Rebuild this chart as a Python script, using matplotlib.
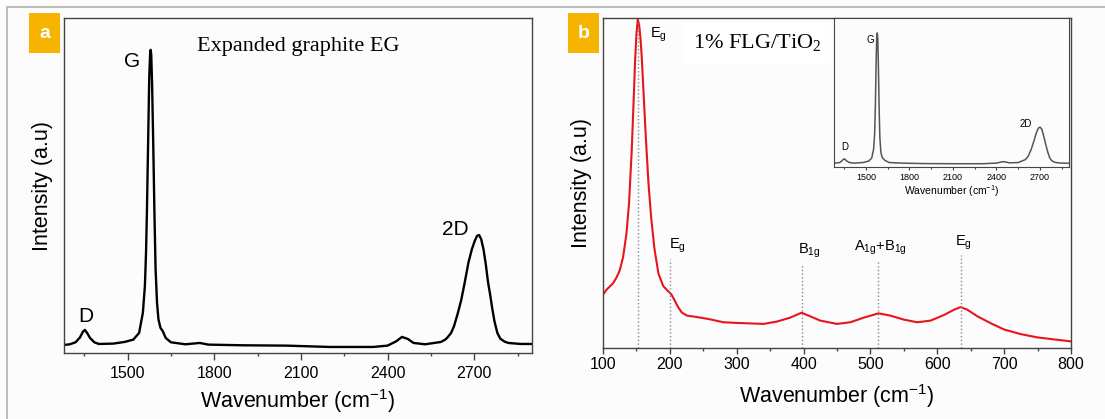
import matplotlib.pyplot as plt
from matplotlib.patches import Rectangle
from matplotlib.ticker import MultipleLocator

plt.rcParams['font.family'] = 'Liberation Sans'
plt.rcParams['mathtext.fontset'] = 'custom'
plt.rcParams['mathtext.rm'] = 'Liberation Sans'
plt.rcParams['mathtext.it'] = 'Liberation Sans:italic'

# (a) expanded graphite, Raman shift vs intensity (a.u., 0-100 of axis height)
eg_wn = [1280, 1300, 1320, 1335, 1345, 1352, 1360, 1370, 1385, 1400, 1450, 1490,
         1520, 1540, 1553, 1560, 1564, 1567, 1571, 1575, 1578, 1580, 1582, 1585,
         1589, 1593, 1597, 1602, 1607, 1614, 1622, 1632, 1650, 1700, 1750, 1780,
         1900, 2050, 2200, 2350, 2400, 2430, 2450, 2470, 2490, 2530, 2585, 2600,
         2609, 2620, 2630, 2642, 2655, 2667, 2680, 2692, 2702, 2710, 2717, 2724,
         2732, 2740, 2748, 2755, 2762, 2770, 2780, 2790, 2805, 2818, 2860, 2900]
eg_int = [2.4, 2.6, 3.2, 4.6, 6.3, 6.9, 6.0, 4.5, 3.2, 2.7, 2.8, 3.3,
          4.0, 6.0, 12, 20, 30, 42, 62, 82, 89, 90.5, 89, 80,
          62, 42, 25, 15, 10, 7.5, 6.5, 4.5, 3.2, 2.6, 3.0, 2.5,
          2.3, 2.2, 1.8, 1.8, 2.2, 3.5, 4.8, 4.2, 3.0, 2.6, 3.3, 4.0,
          4.8, 6.0, 8.0, 11.5, 15.8, 21, 27, 31, 33.5, 35, 35.2, 34,
          31, 26.5, 21, 17.5, 13.5, 9.5, 6.0, 4.3, 3.4, 3.0, 2.7, 2.7]

# (b) 1% FLG/TiO2, low wavenumber region
tio2_wn = [100, 105, 110, 115, 120, 125, 130, 135, 139, 143, 146, 148, 150, 152,
           154, 156, 158, 161, 164, 168, 172, 177, 183, 190, 197, 202, 207, 212,
           218, 226, 240, 260, 280, 300, 340, 360, 380, 397, 410, 425, 450, 470,
           490, 512, 530, 550, 570, 590, 610, 625, 635, 645, 660, 680, 700, 725,
           750, 775, 800]
tio2_int = [16.2, 17.6, 18.6, 19.6, 21.3, 23.5, 27.5, 34.5, 44, 60, 76, 87, 95, 99.5,
            98, 94, 88, 76, 64, 50, 39.6, 30, 22.5, 18.8, 17.3, 16.3, 14.5, 12.5,
            10.7, 9.8, 9.4, 8.7, 7.8, 7.6, 7.3, 8.0, 9.2, 10.7, 9.6, 8.3, 7.3, 7.8,
            9.2, 10.5, 9.8, 8.6, 7.8, 8.3, 10.0, 11.6, 12.4, 11.6, 9.6, 7.5, 5.6, 4.2,
            3.2, 2.6, 2.0]

# inset: carbon region of 1% FLG/TiO2
flg_wn = [1280, 1320, 1335, 1345, 1350, 1358, 1368, 1385, 1420, 1480, 1520, 1540,
          1553, 1560, 1565, 1570, 1574, 1578, 1582, 1586, 1591, 1596, 1603, 1612,
          1630, 1660, 1750, 1900, 2100, 2300, 2400, 2430, 2445, 2460, 2490, 2550,
          2600, 2620, 2640, 2660, 2675, 2688, 2700, 2712, 2725, 2740, 2755, 2768,
          2780, 2800, 2830, 2900]
flg_int = [2.5, 3.0, 4.2, 5.2, 5.4, 5.0, 4.0, 3.0, 2.6, 3.0, 4.0, 6.0,
           12, 22, 40, 68, 86, 90, 86, 68, 40, 20, 10, 6.5,
           4.5, 3.0, 2.6, 2.3, 2.2, 2.2, 2.6, 3.3, 3.6, 3.4, 2.8, 3.0,
           5.0, 7.5, 12, 18, 23, 26, 26.8, 25.5, 21, 15, 9.5, 6.0,
           4.3, 3.2, 2.7, 2.5]

# TiO2 anatase modes
mode_pos = [152, 200, 397, 512, 635]
mode_top = [99.5, 26.9, 25.3, 26.2, 28.2]
mode_names = [r'E$_\mathregular{g}$', r'E$_\mathregular{g}$', r'B$_\mathregular{1g}$',
              r'A$_\mathregular{1g}$+B$_\mathregular{1g}$', r'E$_\mathregular{g}$']

W, H = 1105, 419
bg = '#fcfcfc'
spine_c = '#444444'
fig = plt.figure(figsize=(W / 100, H / 100), dpi=100, facecolor=bg)

# grey panel frame
fig.patches.append(Rectangle((7 / W, -0.1), 1.2, (H - 7) / H + 0.1, transform=fig.transFigure,
                             fill=False, ec='#bdbdbd', lw=1.5))

ax1 = fig.add_axes([64 / W, 1 - 353 / H, 468 / W, 335 / H])
ax2 = fig.add_axes([603 / W, 1 - 348 / H, 468 / W, 330 / H])
ax3 = fig.add_axes([834 / W, 1 - 167 / H, 235 / W, 149 / H])

xlab = r'Wavenumber (cm$^{\mathregular{-1}}$)'

# ---- panel a
ax1.plot(eg_wn, eg_int, color='black', lw=1.7)
ax1.set_xlim(1280, 2900)
ax1.set_ylim(0, 100)
ax1.set_xticks([1500, 1800, 2100, 2400, 2700])
ax1.xaxis.set_minor_locator(MultipleLocator(150))
ax1.set_yticks([])
ax1.tick_params(axis='x', which='major', direction='out', length=5, width=1, color=spine_c,
                labelsize=11.5, pad=4)
ax1.tick_params(axis='x', which='minor', direction='out', length=2.5, width=1, color=spine_c)
ax1.set_xlabel(xlab, fontsize=15.5, labelpad=5)
ax1.set_ylabel('Intensity (a.u)', fontsize=15.5, labelpad=8)
ax1.text(0.5, 0.916, 'Expanded graphite EG', transform=ax1.transAxes, family='Liberation Serif',
         fontsize=16, ha='center', va='center')
ax1.text(1517, 87, 'G', fontsize=15, ha='center', va='center')
ax1.text(1357, 11, 'D', fontsize=15, ha='center', va='center')
ax1.text(2633, 37, '2D', fontsize=15, ha='center', va='center')

# ---- panel b
ax2.plot(tio2_wn, tio2_int, color='#e8141c', lw=1.5)
ax2.vlines(mode_pos, 0, mode_top, colors='#888888', linestyles=':', lw=1)
label_x = [170, 199, 391, 476, 627]
label_y = [95, 31, 29.3, 30.2, 32]
for name, lx, ly in zip(mode_names, label_x, label_y):
    ax2.text(lx, ly, name, fontsize=10.5, ha='left', va='center')
ax2.set_xlim(100, 800)
ax2.set_ylim(0, 100)
ax2.xaxis.set_major_locator(MultipleLocator(100))
ax2.xaxis.set_minor_locator(MultipleLocator(50))
ax2.set_yticks([])
ax2.tick_params(axis='x', which='major', direction='out', length=4, width=1, color=spine_c,
                labelsize=11.5, pad=2.5)
ax2.tick_params(axis='x', which='minor', direction='out', length=2, width=1, color=spine_c)
ax2.set_xlabel(xlab, fontsize=15.5, labelpad=7)
ax2.set_ylabel('Intensity (a.u)', fontsize=15.5, labelpad=8)
ax2.text(0.329, 0.924, r'1% FLG/TiO$_\mathregular{2}$', transform=ax2.transAxes,
         family='Liberation Serif', fontsize=16, ha='center', va='center',
         bbox=dict(fc='white', ec='none', pad=7))

# ---- inset
ax3.plot(flg_wn, flg_int, color='#555555', lw=1.1)
ax3.set_xlim(1280, 2900)
ax3.set_ylim(0, 100)
ax3.set_xticks([1500, 1800, 2100, 2400, 2700])
ax3.xaxis.set_minor_locator(MultipleLocator(150))
ax3.set_yticks([])
ax3.tick_params(axis='x', which='major', direction='out', length=2.5, width=0.8, color=spine_c,
                labelsize=6.5, pad=1.5)
ax3.tick_params(axis='x', which='minor', direction='out', length=1.5, width=0.8, color=spine_c)
ax3.set_xlabel(xlab, fontsize=7.5, labelpad=1)
ax3.text(1529, 85, 'G', fontsize=7, ha='center', va='center')
ax3.text(1356, 13.4, 'D', fontsize=7, ha='center', va='center')
ax3.text(2600, 29, '2D', fontsize=7, ha='center', va='center')

for ax in (ax1, ax2, ax3):
    ax.set_facecolor(bg)
    for s in ax.spines.values():
        s.set_color(spine_c)
        s.set_linewidth(1.0 if ax is not ax3 else 0.8)

# panel letters
for letter, x0 in (('a', 29), ('b', 568)):
    fig.patches.append(Rectangle((x0 / W, 1 - 53 / H), 31 / W, 40 / H, transform=fig.transFigure,
                                 color='#f6b400', lw=0))
    fig.text((x0 + 15.5) / W, 1 - 33 / H, letter, color='white', fontsize=14, weight='bold',
             ha='center', va='center')

plt.savefig('out.png', dpi=100, facecolor=bg)
